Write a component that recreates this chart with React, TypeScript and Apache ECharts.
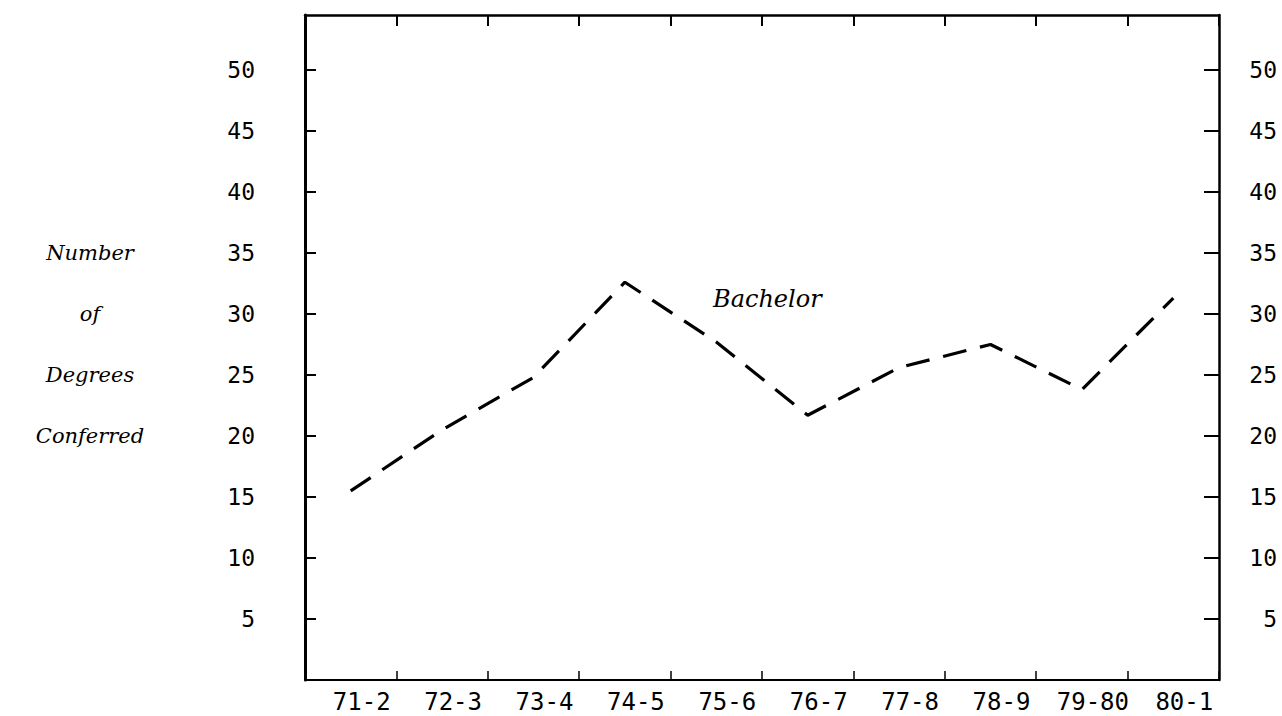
import React, { useEffect, useRef } from "react";
import * as echarts from "echarts";

const categories = ["71-2", "72-3", "73-4", "74-5", "75-6", "76-7", "77-8", "78-9", "79-80", "80-1"];
const bachelorValues = [15.5, 20.5, 24.8, 32.6, 27.7, 21.7, 25.6, 27.5, 23.8, 31.3];
const yMin = 0;
const yMax = 54.5;
const yInterval = 5;
const yTitleLines = ["Number", "of", "Degrees", "Conferred"];
const yTitleLevels = [35, 30, 25, 20];
const seriesLabel = "Bachelor";

const monoFont = "'DejaVu Sans Mono', monospace";
const serifFont = "'DejaVu Serif', serif";

export default function App() {
  const ref = useRef<HTMLDivElement>(null);

  useEffect(() => {
    if (!ref.current) return;
    const chart = echarts.init(ref.current, null, { renderer: "svg" });
    const gridTop = 15;
    const gridBottom = 36;
    const height = 716;
    const plotH = height - gridTop - gridBottom;
    const yPix = (v: number) => gridTop + plotH * (1 - (v - yMin) / (yMax - yMin));

    const fmt = (v: number) => (v > 0 && v % 5 === 0 ? String(v) : "");

    const yCommon = {
      type: "value",
      min: yMin,
      max: yMax,
      interval: yInterval,
      splitLine: { show: false },
      axisLine: { show: true, onZero: false, lineStyle: { color: "#000", width: 2.5 } },
    };

    chart.setOption({
      animation: false,
      backgroundColor: "#fff",
      grid: { left: 305, right: 63, top: gridTop, bottom: gridBottom },
      xAxis: [
        {
          type: "category",
          data: categories,
          position: "bottom",
          boundaryGap: true,
          axisLine: { show: true, onZero: false, lineStyle: { color: "#000", width: 2 } },
          axisTick: { show: true, inside: true, length: 9, interval: 0, lineStyle: { color: "#000", width: 1.5 } },
          axisLabel: {
            interval: 0,
            color: "#000",
            fontFamily: monoFont,
            fontSize: 24,
            margin: 10,
            padding: [0, 0, 0, 22],
          },
          splitLine: { show: false },
        },
        {
          type: "category",
          data: categories,
          position: "top",
          boundaryGap: true,
          axisLine: { show: true, onZero: false, lineStyle: { color: "#000", width: 2.5 } },
          axisTick: { show: true, inside: true, length: 11, interval: 0, lineStyle: { color: "#000", width: 2 } },
          axisLabel: { show: false },
          splitLine: { show: false },
        },
      ],
      yAxis: [
        {
          ...yCommon,
          position: "left",
          axisLine: { show: true, onZero: false, lineStyle: { color: "#000", width: 3 } },
          axisTick: { show: true, inside: true, length: 11, lineStyle: { color: "#000", width: 2 } },
          axisLabel: {
            color: "#000",
            fontFamily: monoFont,
            fontSize: 23,
            margin: 50,
            formatter: fmt,
            showMinLabel: false,
            showMaxLabel: false,
          },
        },
        {
          ...yCommon,
          position: "right",
          axisTick: { show: true, inside: true, length: 15, lineStyle: { color: "#000", width: 2 } },
          axisLabel: {
            color: "#000",
            fontFamily: monoFont,
            fontSize: 23,
            margin: 58,
            align: "right",
            formatter: fmt,
            showMinLabel: false,
            showMaxLabel: false,
          },
        },
      ],
      series: [
        {
          name: seriesLabel,
          type: "line",
          xAxisIndex: 0,
          yAxisIndex: 0,
          data: bachelorValues,
          symbol: "none",
          lineStyle: { color: "#000", width: 3.2, type: [24, 14] },
        },
      ],
      graphic: [
        ...yTitleLines.map((t, i) => ({
          type: "text",
          x: 90,
          y: yPix(yTitleLevels[i]),
          style: {
            text: t,
            fill: "#000",
            font: `italic 21px ${serifFont}`,
            textAlign: "center",
            textVerticalAlign: "middle",
          },
        })),
        {
          type: "text",
          x: 713,
          y: 287,
          style: {
            text: seriesLabel,
            fill: "#000",
            font: `italic 24px ${serifFont}`,
          },
        },
      ],
    });
    return () => chart.dispose();
  }, []);

  return (
    <div
      ref={ref}
      style={{ position: "fixed", left: 0, top: 0, width: 1282, height: 716, background: "#fff" }}
    />
  );
}
